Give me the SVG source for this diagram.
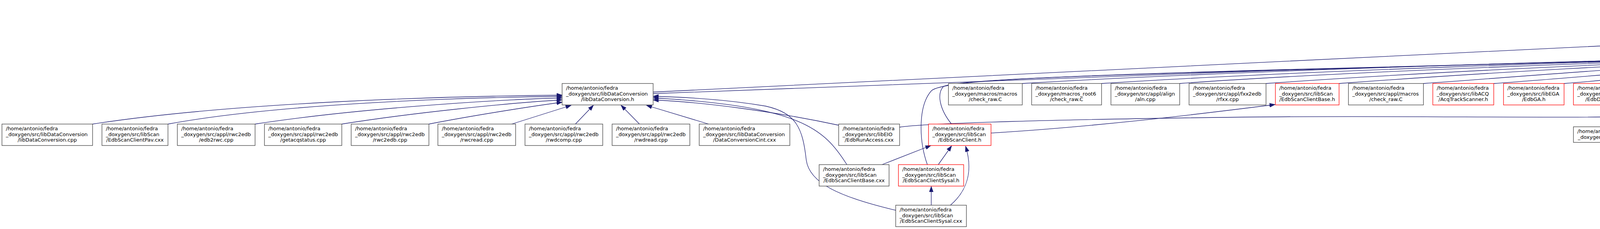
<svg xmlns="http://www.w3.org/2000/svg" width="7096" height="587" viewBox="0 0 7096 587">
<defs>
<marker id="ah" markerUnits="userSpaceOnUse" markerWidth="15" markerHeight="11" refX="14" refY="5.5" orient="auto" viewBox="0 0 15 11"><path d="M0,0.5 L14,5.5 L0,10.5 z" fill="#191970" stroke="#191970" stroke-width="1"/></marker>
<style>
.n rect{fill:#fff;stroke:#404040;stroke-width:1.3}
.r rect{stroke:#ff0000}
.root rect{fill:#bfbfbf}
text{font-family:"DejaVu Sans","Liberation Sans",sans-serif;font-size:13px;fill:#000}
.c{text-anchor:middle}
#edges path{fill:none;stroke:#191970;stroke-width:1.3;marker-end:url(#ah)}
</style>
</defs>
<rect width="7096" height="587" fill="#fff"/>
<g id="edges">
<path d="M237,318 C600,262 1150,246 1439,244"/>
<path d="M430,318 C700,268 1150,250 1439,247"/>
<path d="M653,318 C900,280 1250,256 1439,251"/>
<path d="M875,318 C1050,290 1300,264 1439,256"/>
<path d="M1098,318 C1200,298 1350,274 1439,262"/>
<path d="M1310,318 L1462,270"/>
<path d="M1473,318 L1519,270"/>
<path d="M1637,318 L1590,270"/>
<path d="M1814,318 L1655,270"/>
<path d="M2147,321 C1980,285 1800,262 1672,256"/>
<path d="M2168,422 C2110,330 2050,272 1672,251"/>
<path d="M2293,539 C2150,505 2072,470 2064,410 C2055,330 2040,290 1960,272 C1860,255 1760,249 1672,247"/>
<path d="M1672,236 C2800,182 4600,92 5705,40"/>
<path d="M1672,240 C2500,205 3800,160 4684,139"/>
<path d="M4838,128 C5100,102 5450,66 5705,45"/>
<path d="M6936,112 C6700,66 6250,40 5860,35"/>
<path d="M6618,424 C6800,360 6905,300 6895,250 C6885,185 6700,110 6400,67 C6200,45 6000,37 5860,37"/>
<path d="M2374,422 C2352,360 2350,270 2385,232 C2420,205 2700,196 3200,182 C3800,165 4350,150 4684,141"/>
<path d="M2436,318 C2405,280 2398,240 2415,222 C2440,205 2800,192 3300,178 C3900,162 4400,148 4684,142"/>
<path d="M2617,214 C3100,185 4000,155 4684,143"/>
<path d="M2820,214 C3300,183 4100,156 4684,143"/>
<path d="M3020,214 C3400,186 4150,157 4684,144"/>
<path d="M3241,214 C3600,188 4200,158 4684,145"/>
<path d="M3428,214 C3750,190 4250,160 4684,145"/>
<path d="M3644,214 C3950,192 4300,162 4684,146"/>
<path d="M3824,214 C4100,194 4400,165 4684,147"/>
<path d="M4004,214 C4250,195 4450,167 4684,148"/>
<path d="M4183,214 C4400,190 4550,165 4684,149"/>
<path d="M4156,325 C4250,262 4350,205 4480,180 C4580,162 4640,152 4684,148"/>
<path d="M4348,318 C4335,255 4360,195 4500,170 C4600,155 4650,149 4684,147"/>
<path d="M4476,320 C4380,285 4338,232 4415,192 C4490,160 4620,150 4684,146"/>
<path d="M4689,320 C4550,305 4405,262 4388,222 C4375,185 4540,155 4684,145"/>
<path d="M4558,214 L4688,167"/>
<path d="M4689,214 L4728,168"/>
<path d="M4831,214 L4791,167"/>
<path d="M4981,214 L4843,166"/>
<path d="M5175,215 C5050,185 4920,162 4840,153"/>
<path d="M5443,215 C5200,178 4980,152 4840,147"/>
<path d="M5622,215 C5350,174 5000,148 4840,143"/>
<path d="M5800,215 C5500,170 5050,146 4840,142"/>
<path d="M5114,336 C5250,320 5392,288 5388,248 C5385,205 5150,162 4840,145"/>
<path d="M5476,328 C5700,296 5990,292 6015,282 C6035,270 5990,220 5950,207 C5700,165 5100,145 4840,141"/>
<path d="M5720,328 C5800,306 5950,301 6068,302 C6090,295 6062,228 6030,212 C5800,170 5150,146 4840,140"/>
<path d="M5972,325 C6030,300 6065,262 6055,232 C6045,215 6000,206 5900,192 C5500,157 5100,143 4840,139"/>
<path d="M6108,318 C6110,262 6102,226 6072,213 C5900,173 5200,148 4840,139"/>
<path d="M6276,318 C6210,268 6130,226 6030,203 C5700,163 5100,143 4840,138"/>
<path d="M6232,216 C5900,172 5200,146 4840,137"/>
<path d="M6462,216 C6250,182 5300,152 4840,136"/>
<path d="M6680,221 C6550,200 6300,186 6000,172 C5500,152 5100,141 4840,136"/>
<path d="M6615,340 C6780,322 6900,285 6888,245 C6876,208 6780,190 6400,161 C6000,140 5300,136 4840,135"/>
<path d="M6502,318 C6460,285 6432,250 6416,230 C6402,214 6370,207 6280,199 C5800,165 5200,146 4840,135"/>
<path d="M2303,326 C2360,316 2700,306 3200,300 C3600,296 4000,304 4200,298 C4400,292 4520,281 4586,270"/>
<path d="M4214,325 L4582,271"/>
<path d="M4439,318 L4584,272"/>
<path d="M4595,318 L4633,270"/>
<path d="M4753,318 L4702,270"/>
<path d="M4922,320 L4745,268"/>
<path d="M5270,331 C5100,305 4900,282 4745,268"/>
<path d="M5565,328 C5300,300 4950,280 4745,268"/>
<path d="M5780,326 C5500,296 5000,276 4745,268"/>
<path d="M6028,328 C5700,292 5100,274 4745,268"/>
<path d="M2258,422 L2383,373"/>
<path d="M2402,422 L2436,374"/>
<path d="M2433,526 C2475,490 2492,440 2472,375"/>
<path d="M2384,526 L2384,478"/>
<path d="M2537,341 C2800,325 3050,295 3264,268"/>
<path d="M6538,318 L6538,270"/>
<path d="M6307,318 L6307,270"/>
<path d="M6435,428 C6350,405 6250,385 6186,374"/>
</g>
<g id="n_ldccpp" class="n"><rect x="5" y="318" width="232" height="55"/><text x="15" y="334">/home/antonio/fedra</text><text x="15" y="348.7">_doxygen/src/libDataConversion</text><text class="c" x="121" y="363.4">/libDataConversion.cpp</text></g>
<g id="n_pav" class="n"><rect x="261" y="318" width="169" height="55"/><text x="271" y="334">/home/antonio/fedra</text><text x="271" y="348.7">_doxygen/src/libScan</text><text class="c" x="345.5" y="363.4">/EdbScanClientPav.cxx</text></g>
<g id="n_edb2rwc" class="n"><rect x="454" y="318" width="199" height="55"/><text x="464" y="334">/home/antonio/fedra</text><text x="464" y="348.7">_doxygen/src/appl/rwc2edb</text><text class="c" x="553.5" y="363.4">/edb2rwc.cpp</text></g>
<g id="n_getacq" class="n"><rect x="677" y="318" width="198" height="55"/><text x="687" y="334">/home/antonio/fedra</text><text x="687" y="348.7">_doxygen/src/appl/rwc2edb</text><text class="c" x="776" y="363.4">/getacqstatus.cpp</text></g>
<g id="n_rwc2edb" class="n"><rect x="899" y="318" width="199" height="55"/><text x="909" y="334">/home/antonio/fedra</text><text x="909" y="348.7">_doxygen/src/appl/rwc2edb</text><text class="c" x="998.5" y="363.4">/rwc2edb.cpp</text></g>
<g id="n_rwcread" class="n"><rect x="1121" y="318" width="199" height="55"/><text x="1131" y="334">/home/antonio/fedra</text><text x="1131" y="348.7">_doxygen/src/appl/rwc2edb</text><text class="c" x="1220.5" y="363.4">/rwcread.cpp</text></g>
<g id="n_rwdcomp" class="n"><rect x="1344" y="318" width="199" height="55"/><text x="1354" y="334">/home/antonio/fedra</text><text x="1354" y="348.7">_doxygen/src/appl/rwc2edb</text><text class="c" x="1443.5" y="363.4">/rwdcomp.cpp</text></g>
<g id="n_rwdread" class="n"><rect x="1567" y="318" width="199" height="55"/><text x="1577" y="334">/home/antonio/fedra</text><text x="1577" y="348.7">_doxygen/src/appl/rwc2edb</text><text class="c" x="1666.5" y="363.4">/rwdread.cpp</text></g>
<g id="n_ldch" class="n"><rect x="1439" y="214" width="233" height="55"/><text x="1449" y="230">/home/antonio/fedra</text><text x="1449" y="244.7">_doxygen/src/libDataConversion</text><text class="c" x="1555.5" y="259.4">/libDataConversion.h</text></g>
<g id="n_dcc" class="n"><rect x="1790" y="318" width="232" height="55"/><text x="1800" y="334">/home/antonio/fedra</text><text x="1800" y="348.7">_doxygen/src/libDataConversion</text><text class="c" x="1906" y="363.4">/DataConversionCint.cxx</text></g>
<g id="n_eracxx" class="n"><rect x="2147" y="318" width="156" height="55"/><text x="2157" y="334">/home/antonio/fedra</text><text x="2157" y="348.7">_doxygen/src/libEIO</text><text class="c" x="2225" y="363.4">/EdbRunAccess.cxx</text></g>
<g id="n_esch" class="n r"><rect x="2377" y="318" width="160" height="55"/><text x="2387" y="334">/home/antonio/fedra</text><text x="2387" y="348.7">_doxygen/src/libScan</text><text class="c" x="2457" y="363.4">/EdbScanClient.h</text></g>
<g id="n_escbcxx" class="n"><rect x="2097" y="422" width="179" height="55"/><text x="2107" y="438">/home/antonio/fedra</text><text x="2107" y="452.7">_doxygen/src/libScan</text><text class="c" x="2186.5" y="467.4">/EdbScanClientBase.cxx</text></g>
<g id="n_escsh" class="n r"><rect x="2300" y="422" width="167" height="55"/><text x="2310" y="438">/home/antonio/fedra</text><text x="2310" y="452.7">_doxygen/src/libScan</text><text class="c" x="2383.5" y="467.4">/EdbScanClientSysal.h</text></g>
<g id="n_escscxx" class="n"><rect x="2293" y="526" width="181" height="55"/><text x="2303" y="542">/home/antonio/fedra</text><text x="2303" y="556.7">_doxygen/src/libScan</text><text class="c" x="2383.5" y="571.4">/EdbScanClientSysal.cxx</text></g>
<g id="n_chkmm" class="n"><rect x="2428" y="214" width="189" height="55"/><text x="2438" y="230">/home/antonio/fedra</text><text x="2438" y="244.7">_doxygen/macros/macros</text><text class="c" x="2522.5" y="259.4">/check_raw.C</text></g>
<g id="n_chkr6" class="n"><rect x="2641" y="214" width="179" height="55"/><text x="2651" y="230">/home/antonio/fedra</text><text x="2651" y="244.7">_doxygen/macros_root6</text><text class="c" x="2730.5" y="259.4">/check_raw.C</text></g>
<g id="n_aln" class="n"><rect x="2844" y="214" width="176" height="55"/><text x="2854" y="230">/home/antonio/fedra</text><text x="2854" y="244.7">_doxygen/src/appl/align</text><text class="c" x="2932" y="259.4">/aln.cpp</text></g>
<g id="n_rfxx" class="n"><rect x="3044" y="214" width="197" height="55"/><text x="3054" y="230">/home/antonio/fedra</text><text x="3054" y="244.7">_doxygen/src/appl/fxx2edb</text><text class="c" x="3142.5" y="259.4">/rfxx.cpp</text></g>
<g id="n_escbh" class="n r"><rect x="3265" y="214" width="163" height="55"/><text x="3275" y="230">/home/antonio/fedra</text><text x="3275" y="244.7">_doxygen/src/libScan</text><text class="c" x="3346.5" y="259.4">/EdbScanClientBase.h</text></g>
<g id="n_chkam" class="n"><rect x="3452" y="214" width="192" height="55"/><text x="3462" y="230">/home/antonio/fedra</text><text x="3462" y="244.7">_doxygen/src/appl/macros</text><text class="c" x="3548" y="259.4">/check_raw.C</text></g>
<g id="n_acq" class="n r"><rect x="3668" y="214" width="156" height="55"/><text x="3678" y="230">/home/antonio/fedra</text><text x="3678" y="244.7">_doxygen/src/libACQ</text><text class="c" x="3746" y="259.4">/AcqTrackScanner.h</text></g>
<g id="n_ga" class="n r"><rect x="3849" y="214" width="155" height="55"/><text x="3859" y="230">/home/antonio/fedra</text><text x="3859" y="244.7">_doxygen/src/libEGA</text><text class="c" x="3926.5" y="259.4">/EdbGA.h</text></g>
<g id="n_ds" class="n r"><rect x="4028" y="214" width="155" height="55"/><text x="4038" y="230">/home/antonio/fedra</text><text x="4038" y="244.7">_doxygen/src/libEIO</text><text class="c" x="4105.5" y="259.4">/EdbDataSet.h</text></g>
<g id="n_vm" class="n r"><rect x="4410" y="214" width="154" height="55"/><text x="4420" y="230">/home/antonio/fedra</text><text x="4420" y="244.7">_doxygen/src/libEIO</text><text class="c" x="4487" y="259.4">/EdbViewMap.h</text></g>
<g id="n_erah" class="n r"><rect x="4588" y="214" width="154" height="55"/><text x="4598" y="230">/home/antonio/fedra</text><text x="4598" y="244.7">_doxygen/src/libEIO</text><text class="c" x="4665" y="259.4">/EdbRunAccess.h</text></g>
<g id="n_e2" class="n"><rect x="4766" y="214" width="179" height="55"/><text x="4776" y="230">/home/antonio/fedra</text><text x="4776" y="244.7">_doxygen/src/libEOracle</text><text class="c" x="4855.5" y="259.4">/TOracleServerE2.cxx</text></g>
<g id="n_er" class="n"><rect x="4684" y="110" width="154" height="55"/><text x="4695" y="126.5">/home/antonio/fedra</text><text x="4695" y="141">_doxygen/src/libEdb</text><text class="c" x="4761" y="155.6">/EdbRun.h</text></g>
<g id="n_addrwdm" class="n"><rect x="4028" y="325" width="210" height="40"/><text x="4038" y="341">/home/antonio/fedra</text><text class="c" x="4133" y="355.7">_doxygen/macros/addRWD.C</text></g>
<g id="n_addrwcmm" class="n"><rect x="4262" y="318" width="190" height="55"/><text x="4272" y="334">/home/antonio/fedra</text><text x="4272" y="348.7">_doxygen/macros/macros</text><text class="c" x="4357" y="363.4">/addRWC.C</text></g>
<g id="n_addrwdmm" class="n"><rect x="4476" y="318" width="189" height="55"/><text x="4486" y="334">/home/antonio/fedra</text><text x="4486" y="348.7">_doxygen/macros/macros</text><text class="c" x="4570.5" y="363.4">/addRWD.C</text></g>
<g id="n_addrwcam" class="n"><rect x="4689" y="318" width="193" height="55"/><text x="4699" y="334">/home/antonio/fedra</text><text x="4699" y="348.7">_doxygen/src/appl/macros</text><text class="c" x="4785.5" y="363.4">/addRWC.C</text></g>
<g id="n_addrwdam" class="n"><rect x="4922" y="318" width="192" height="55"/><text x="4932" y="334">/home/antonio/fedra</text><text x="4932" y="348.7">_doxygen/src/appl/macros</text><text class="c" x="5018" y="363.4">/addRWD.C</text></g>
<g id="n_e2w" class="n"><rect x="4969" y="214" width="179" height="55"/><text x="4979" y="230">/home/antonio/fedra</text><text x="4979" y="244.7">_doxygen/src/libEOracle</text><text class="c" x="5058.5" y="259.4">/TOracleServerE2W.cxx</text></g>
<g id="n_e2wfb" class="n"><rect x="5172" y="214" width="191" height="55"/><text x="5182" y="230">/home/antonio/fedra</text><text x="5182" y="244.7">_doxygen/src/libEOracle</text><text class="c" x="5267.5" y="259.4">/TOracleServerE2WFB.cxx</text></g>
<g id="n_ercxx" class="n"><rect x="5438" y="214" width="155" height="55"/><text x="5448" y="230">/home/antonio/fedra</text><text x="5448" y="244.7">_doxygen/src/libEdb</text><text class="c" x="5515.5" y="259.4">/EdbRun.cxx</text></g>
<g id="n_prd" class="n r"><rect x="5270" y="318" width="206" height="55"/><text x="5280" y="334">/home/antonio/fedra</text><text x="5280" y="348.7">_doxygen/src/appl/rwcToEdb</text><text class="c" x="5373" y="363.4">/ProcessRawData.h</text></g>
<g id="n_ept" class="n r"><rect x="5565" y="318" width="155" height="55"/><text x="5575" y="334">/home/antonio/fedra</text><text x="5575" y="348.7">_doxygen/src/libEdr</text><text class="c" x="5642.5" y="363.4">/EdbPlateTracking.h</text></g>
<g id="n_rh" class="n root"><rect x="5705" y="6" width="155" height="55"/><text x="5715" y="22">/home/antonio/fedra</text><text x="5715" y="36.7">_doxygen/src/libEdb</text><text class="c" x="5782.5" y="51.4">/EdbRunHeader.h</text></g>
<g id="n_test" class="n r"><rect x="5617" y="214" width="155" height="55"/><text x="5627" y="230">/home/antonio/fedra</text><text x="5627" y="244.7">_doxygen/src/libEdb</text><text class="c" x="5694.5" y="259.4">/EdbTest.h</text></g>
<g id="n_view" class="n"><rect x="5796" y="214" width="155" height="55"/><text x="5806" y="230">/home/antonio/fedra</text><text x="5806" y="244.7">_doxygen/src/libEdb</text><text class="c" x="5873.5" y="259.4">/EdbView.cxx</text></g>
<g id="n_vmatch" class="n r"><rect x="6228" y="214" width="158" height="55"/><text x="6238" y="230">/home/antonio/fedra</text><text x="6238" y="244.7">_doxygen/src/libEMC</text><text class="c" x="6307" y="259.4">/EdbViewMatch.h</text></g>
<g id="n_addrwcm" class="n"><rect x="5778" y="325" width="209" height="40"/><text x="5788" y="341">/home/antonio/fedra</text><text class="c" x="5882.5" y="355.7">_doxygen/macros/addRWC.C</text></g>
<g id="n_ert" class="n r"><rect x="6028" y="318" width="155" height="55"/><text x="6038" y="334">/home/antonio/fedra</text><text x="6038" y="348.7">_doxygen/src/libEIO</text><text class="c" x="6105.5" y="363.4">/EdbRunTracking.h</text></g>
<g id="n_vd" class="n"><rect x="6207" y="318" width="200" height="55"/><text x="6217" y="334">/home/antonio/fedra</text><text x="6217" y="348.7">_doxygen/src/appl/viewcorr</text><text class="c" x="6307" y="363.4">/viewdist.cpp</text></g>
<g id="n_rhcxx" class="n"><rect x="6936" y="110" width="155" height="55"/><text x="6946" y="126">/home/antonio/fedra</text><text x="6946" y="140.7">_doxygen/src/libEdb</text><text class="c" x="7013.5" y="155.4">/EdbRunHeader.cxx</text></g>
<g id="n_online" class="n r"><rect x="6460" y="214" width="155" height="55"/><text x="6470" y="230">/home/antonio/fedra</text><text x="6470" y="244.7">_doxygen/src/libEdb</text><text class="c" x="6537.5" y="259.4">/EdbOnline.h</text></g>
<g id="n_chkm" class="n"><rect x="6639" y="221" width="223" height="40"/><text x="6649" y="237">/home/antonio/fedra</text><text class="c" x="6750.5" y="251.7">_doxygen/macros/check_raw.C</text></g>
<g id="n_cint" class="n"><rect x="6460" y="318" width="155" height="55"/><text x="6470" y="334">/home/antonio/fedra</text><text x="6470" y="348.7">_doxygen/src/libEdb</text><text class="c" x="6537.5" y="363.4">/EdbCint.cxx</text></g>
<g id="n_e2wx" class="n"><rect x="6435" y="422" width="183" height="55"/><text x="6445" y="438">/home/antonio/fedra</text><text x="6445" y="452.7">_doxygen/src/libEOracle</text><text class="c" x="6526.5" y="467.4">/TOracleServerE2WX.cxx</text></g>
</svg>
